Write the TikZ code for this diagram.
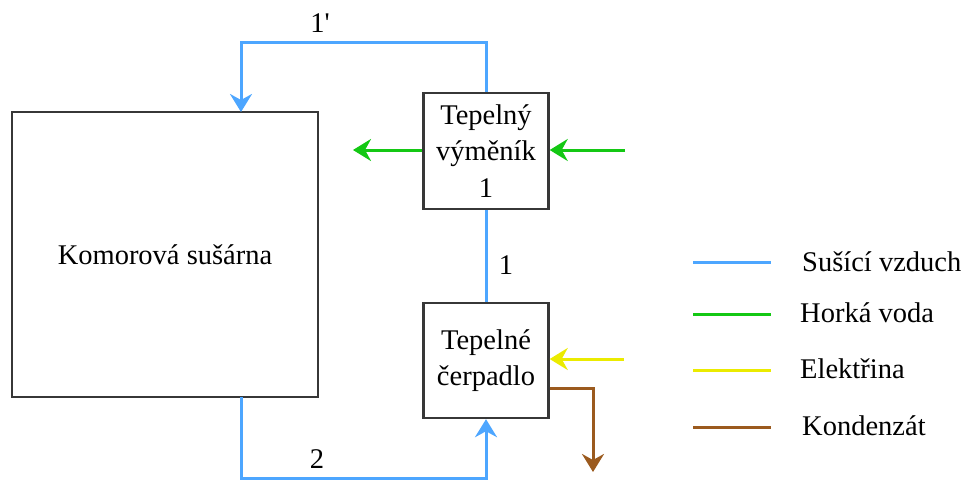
\documentclass[tikz,border=0pt]{standalone}
\usepackage{fontspec}
\setmainfont{Liberation Serif}
\usetikzlibrary{arrows.meta}
\definecolor{airc}{RGB}{77,166,255}
\definecolor{hotc}{RGB}{20,200,20}
\definecolor{elc}{RGB}{235,235,0}
\definecolor{conc}{RGB}{155,90,30}
\definecolor{boxc}{RGB}{55,55,55}
\tikzset{
  unit/.style={draw=boxc, line width=2.4pt, fill=white, align=center, inner sep=0pt,
    font=\fontsize{28.5}{36.5}\selectfont},
  flow/.style={line width=3pt, -{Stealth[length=18pt,width=22pt,inset=6pt]}},
  air/.style={draw=airc, line width=3pt},
  hot/.style={draw=hotc, line width=3pt},
  el/.style={draw=elc, line width=3pt},
  con/.style={draw=conc, line width=3pt},
  lbl/.style={font=\fontsize{28.5}{34}\selectfont, inner sep=0pt},
}
\begin{document}
\begin{tikzpicture}[x=1pt,y=-1pt]
\useasboundingbox (0,0) rectangle (965,479);
% units
\node[unit, minimum width=306pt, minimum height=285pt] (dryer) at (165,254.5) {Komorová sušárna};
\node[unit, minimum width=125pt, minimum height=116pt] (hx) at (486,151) {Tepelný\\výměník\\1};
\node[unit, minimum width=125pt, minimum height=115pt] (hp) at (486,360.5) {Tepelné\\čerpadlo};
% free ends
\coordinate (topR) at (486,42);
\coordinate (topL) at (241,42);
\coordinate (dIn) at (241,112);
\coordinate (dOut) at (241,397);
\coordinate (botL) at (241,478);
\coordinate (gIn) at (625,150);
\coordinate (gOut) at (353,150);
\coordinate (eIn) at (624,359);
\coordinate (cStart) at (550,388);
\coordinate (cOut) at (593,472);
% air loop
\draw[air, flow] (hx.north) -- (topR) -- (topL) -- (dIn);
\draw[air, flow] (dOut) -- (botL) -| (hp.south);
\draw[air] (hx.south) -- (hp.north);
% hot water
\draw[hot, flow] (gIn) -- (hx.east |- gIn);
\draw[hot, flow] (hx.west |- gOut) -- (gOut);
% electricity
\draw[el, flow] (eIn) -- (hp.east |- eIn);
% condensate
\draw[con, flow] (hp.east |- cStart) -| (cOut);
% labels
\node[lbl, anchor=base] (l1p) at (320,32) {1\textquotesingle};
\node[lbl, anchor=base] (l1) at (506,274) {1};
\node[lbl, anchor=base] (l2) at (317,468) {2};
% legend
\coordinate (a1) at (693,262); \coordinate (a2) at (771,262);
\coordinate (b1) at (693,314); \coordinate (b2) at (771,314);
\coordinate (c1) at (693,370); \coordinate (c2) at (771,370);
\coordinate (d1) at (693,427); \coordinate (d2) at (771,427);
\draw[air] (a1) -- (a2);
\draw[hot] (b1) -- (b2);
\draw[el] (c1) -- (c2);
\draw[con] (d1) -- (d2);
\node[lbl, anchor=base west] (ta) at (802,271) {Sušící vzduch};
\node[lbl, anchor=base west] (tb) at (800,322) {Horká voda};
\node[lbl, anchor=base west] (tc) at (800,378) {Elektřina};
\node[lbl, anchor=base west] (td) at (802,435) {Kondenzát};
\end{tikzpicture}
\end{document}
